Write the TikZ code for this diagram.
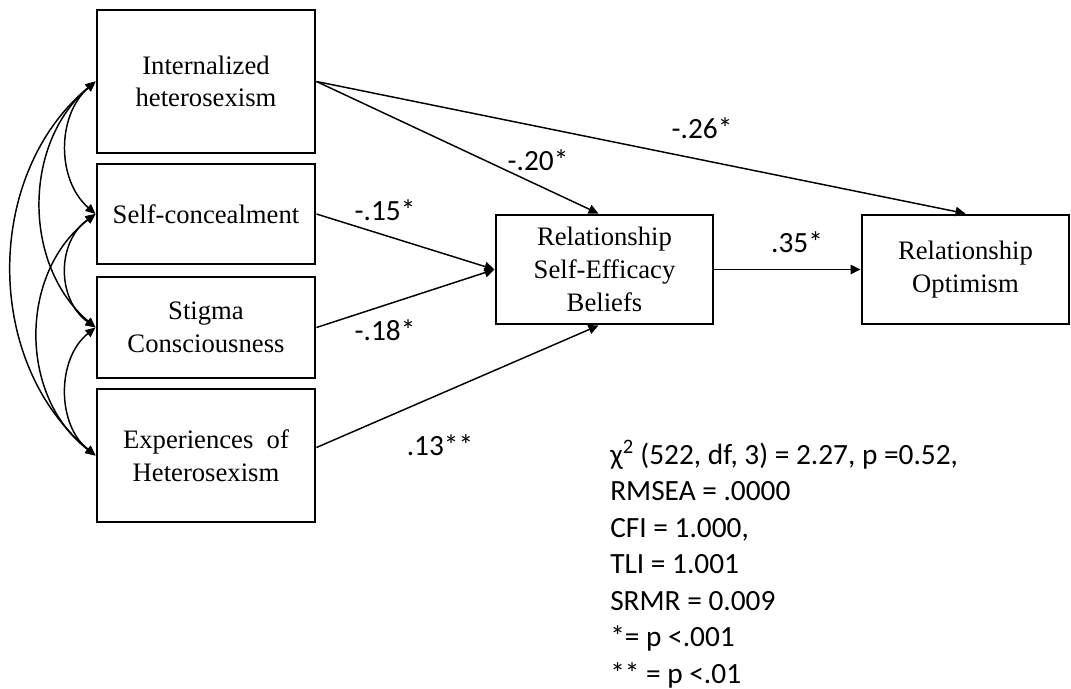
\documentclass[tikz,border=0pt]{standalone}
\usepackage{fontspec}
\setmainfont{Liberation Serif}
\newfontfamily\calfont{Carlito}
\usetikzlibrary{arrows.meta,calc}

\begin{document}
\begin{tikzpicture}[x=0.75pt,y=-0.75pt,
  box/.style={draw, line width=2.2pt, align=center, inner sep=0pt,
    font=\fontsize{20}{24.5}\selectfont},
  path/.style={line width=1.1pt, -{Triangle[length=7.5pt,width=7pt]}},
  cov/.style={line width=1.1pt,
    {Triangle[length=7.5pt,width=6.5pt]}-{Triangle[length=7.5pt,width=6.5pt]}},
  coef/.style={font=\calfont\fontsize{22}{26}\selectfont, inner sep=0pt}
]
\useasboundingbox (0,0) rectangle (1071,689);

% exogenous predictors
\node[box, minimum width=218*0.75pt, minimum height=143*0.75pt] (ih)  at (206,81.5)  {Internalized\\heterosexism};
\node[box, minimum width=218*0.75pt, minimum height=100*0.75pt] (sc)  at (206,214)   {Self-concealment};
\node[box, minimum width=218*0.75pt, minimum height=101*0.75pt] (stc) at (206,327.5) {Stigma\\Consciousness};
\node[box, minimum width=218*0.75pt, minimum height=133*0.75pt] (eh)  at (206,455.5) {Experiences\ \ of\\Heterosexism};

% mediator and outcome
\node[box, minimum width=217*0.75pt, minimum height=109*0.75pt] (rseb) at (604.5,269.5) {Relationship\\Self-Efficacy\\Beliefs};
\node[box, minimum width=207*0.75pt, minimum height=109*0.75pt] (ro)   at (965.5,269.5) {Relationship\\Optimism};

% directed paths
\draw[path] (ih.east) -- ($(rseb.north)+(-6,0)$);
\draw[path] (ih.east) -- (ro.north);
\draw[path] (sc.east) -- (rseb.west);
\draw[path] (stc.east) -- (rseb.west);
\draw[path] ($(eh.east)+(0,-8)$) -- ($(rseb.south)+(-6,0)$);
\draw[path] (rseb.east) -- (ro.west);

% covariances among predictors
\draw[cov] (ih.west)  .. controls +(-39,34)  and +(-39,-34) .. (sc.west);
\draw[cov] (sc.west)  .. controls +(-39,28)  and +(-39,-28) .. (stc.west);
\draw[cov] (stc.west) .. controls +(-39,31)  and +(-39,-31) .. (eh.west);
\draw[cov] (ih.west)  .. controls +(-73,62)  and +(-73,-62) .. (stc.west);
\draw[cov] (sc.west)  .. controls +(-77,59)  and +(-77,-59) .. (eh.west);
\draw[cov] (ih.west)  .. controls +(-112,93) and +(-112,-93) .. (eh.west);

% path coefficients
\node[coef] (c26) at (702,128) {-.26*};
\node[coef] (c20) at (538,160) {-.20*};
\node[coef] (c15) at (385,210) {-.15*};
\node[coef] (c18) at (385,330) {-.18*};
\node[coef] (c35) at (797,242) {.35*};
\node[coef] (c13) at (440,445) {.13**};

% fit statistics
\node[anchor=base west, inner sep=0pt, font=\calfont\fontsize{22}{27.4}\selectfont] (fit) at (610,464)
  {\begin{tabular}[t]{@{}l@{}}
   χ\textsuperscript{2} (522, df, 3) = 2.27, p =0.52,\\
   RMSEA = .0000\\
   CFI = 1.000,\\
   TLI = 1.001\\
   SRMR = 0.009\\
   \relax *= p <.001\\
   \relax ** = p <.01
   \end{tabular}};
\end{tikzpicture}
\end{document}
